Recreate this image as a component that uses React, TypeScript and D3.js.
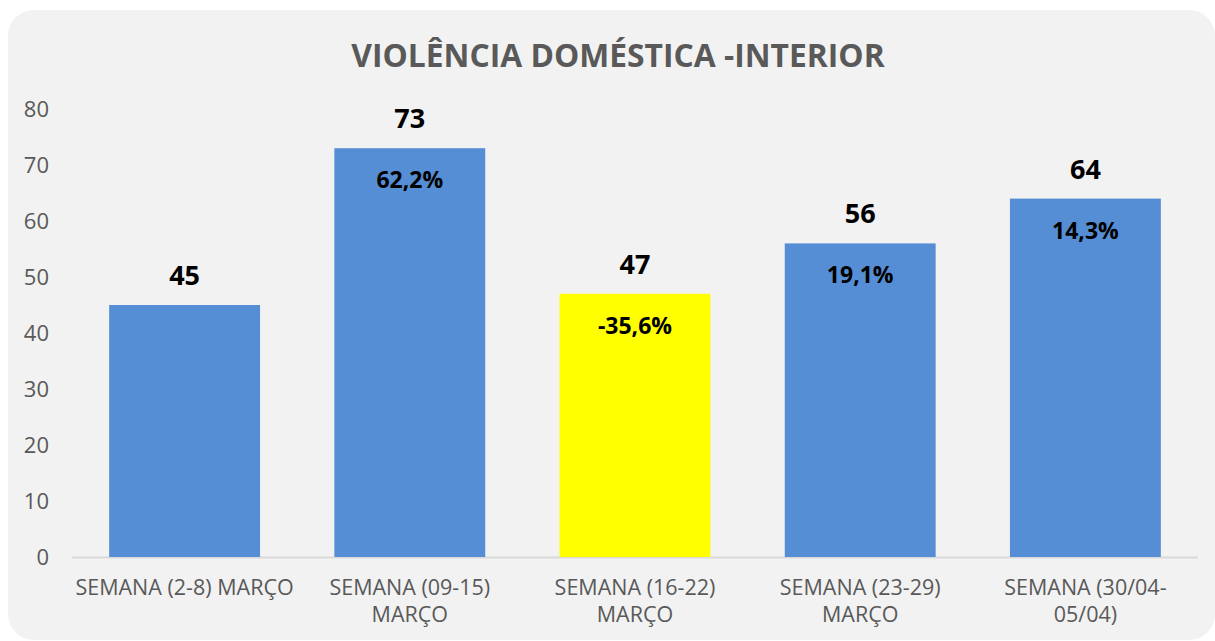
import React from "react";
import * as d3 from "d3";

const title = "VIOLÊNCIA DOMÉSTICA -INTERIOR";
const categories = [
  ["SEMANA (2-8) MARÇO"],
  ["SEMANA (09-15)", "MARÇO"],
  ["SEMANA (16-22)", "MARÇO"],
  ["SEMANA (23-29)", "MARÇO"],
  ["SEMANA (30/04-", "05/04)"],
];
const values = [45, 73, 47, 56, 64];
const changes = ["", "62,2%", "-35,6%", "19,1%", "14,3%"];
const barColors = ["#558ED5", "#558ED5", "#FFFF00", "#558ED5", "#558ED5"];
const yTicks = [0, 10, 20, 30, 40, 50, 60, 70, 80];

const W = 1215;
const H = 641;
const font = "'Open Sans', 'Liberation Sans', sans-serif";

export default function App() {
  const left = 72;
  const right = 1198;
  const y = d3.scaleLinear().domain([0, 80]).range([557, 109]);
  const x = d3
    .scaleBand<number>()
    .domain(values.map((_, i) => i))
    .range([left, right])
    .paddingInner(0.33)
    .paddingOuter(0.165);

  return (
    <svg
      width={W}
      height={H}
      style={{ position: "absolute", left: 0, top: 0 }}
      fontFamily={font}
    >
      <rect x={0} y={0} width={W} height={H} fill="#ffffff" />
      <rect x={8} y={10} width={1207} height={630} rx={26} ry={26} fill="#F2F2F2" />
      <text
        x={618}
        y={67}
        textAnchor="middle"
        fontSize={31.8}
        fontWeight={700}
        fill="#595959"
      >
        {title}
      </text>
      {yTicks.map((t) => (
        <text
          key={t}
          x={49}
          y={y(t) + 8}
          textAnchor="end"
          fontSize={22}
          fill="#595959"
        >
          {t}
        </text>
      ))}
      <line x1={left} x2={right} y1={y(0) + 0.5} y2={y(0) + 0.5} stroke="#D9D9D9" strokeWidth={2} />
      {values.map((v, i) => {
        const bx = x(i)!;
        const bw = x.bandwidth();
        const cx = bx + bw / 2;
        return (
          <g key={i}>
            <rect x={bx} y={y(v)} width={bw} height={y(0) - y(v)} fill={barColors[i]} />
            <text
              x={cx}
              y={y(v) - 20}
              textAnchor="middle"
              fontSize={27}
              fontWeight={700}
              fill="#000000"
            >
              {v}
            </text>
            {changes[i] && (
              <text
                x={cx}
                y={y(v) + 40}
                textAnchor="middle"
                fontSize={23}
                fontWeight={700}
                fill="#000000"
              >
                {changes[i]}
              </text>
            )}
            {categories[i].map((line, j) => (
              <text
                key={j}
                x={cx}
                y={595 + j * 27}
                textAnchor="middle"
                fontSize={21.5}
                fill="#595959"
              >
                {line}
              </text>
            ))}
          </g>
        );
      })}
    </svg>
  );
}
